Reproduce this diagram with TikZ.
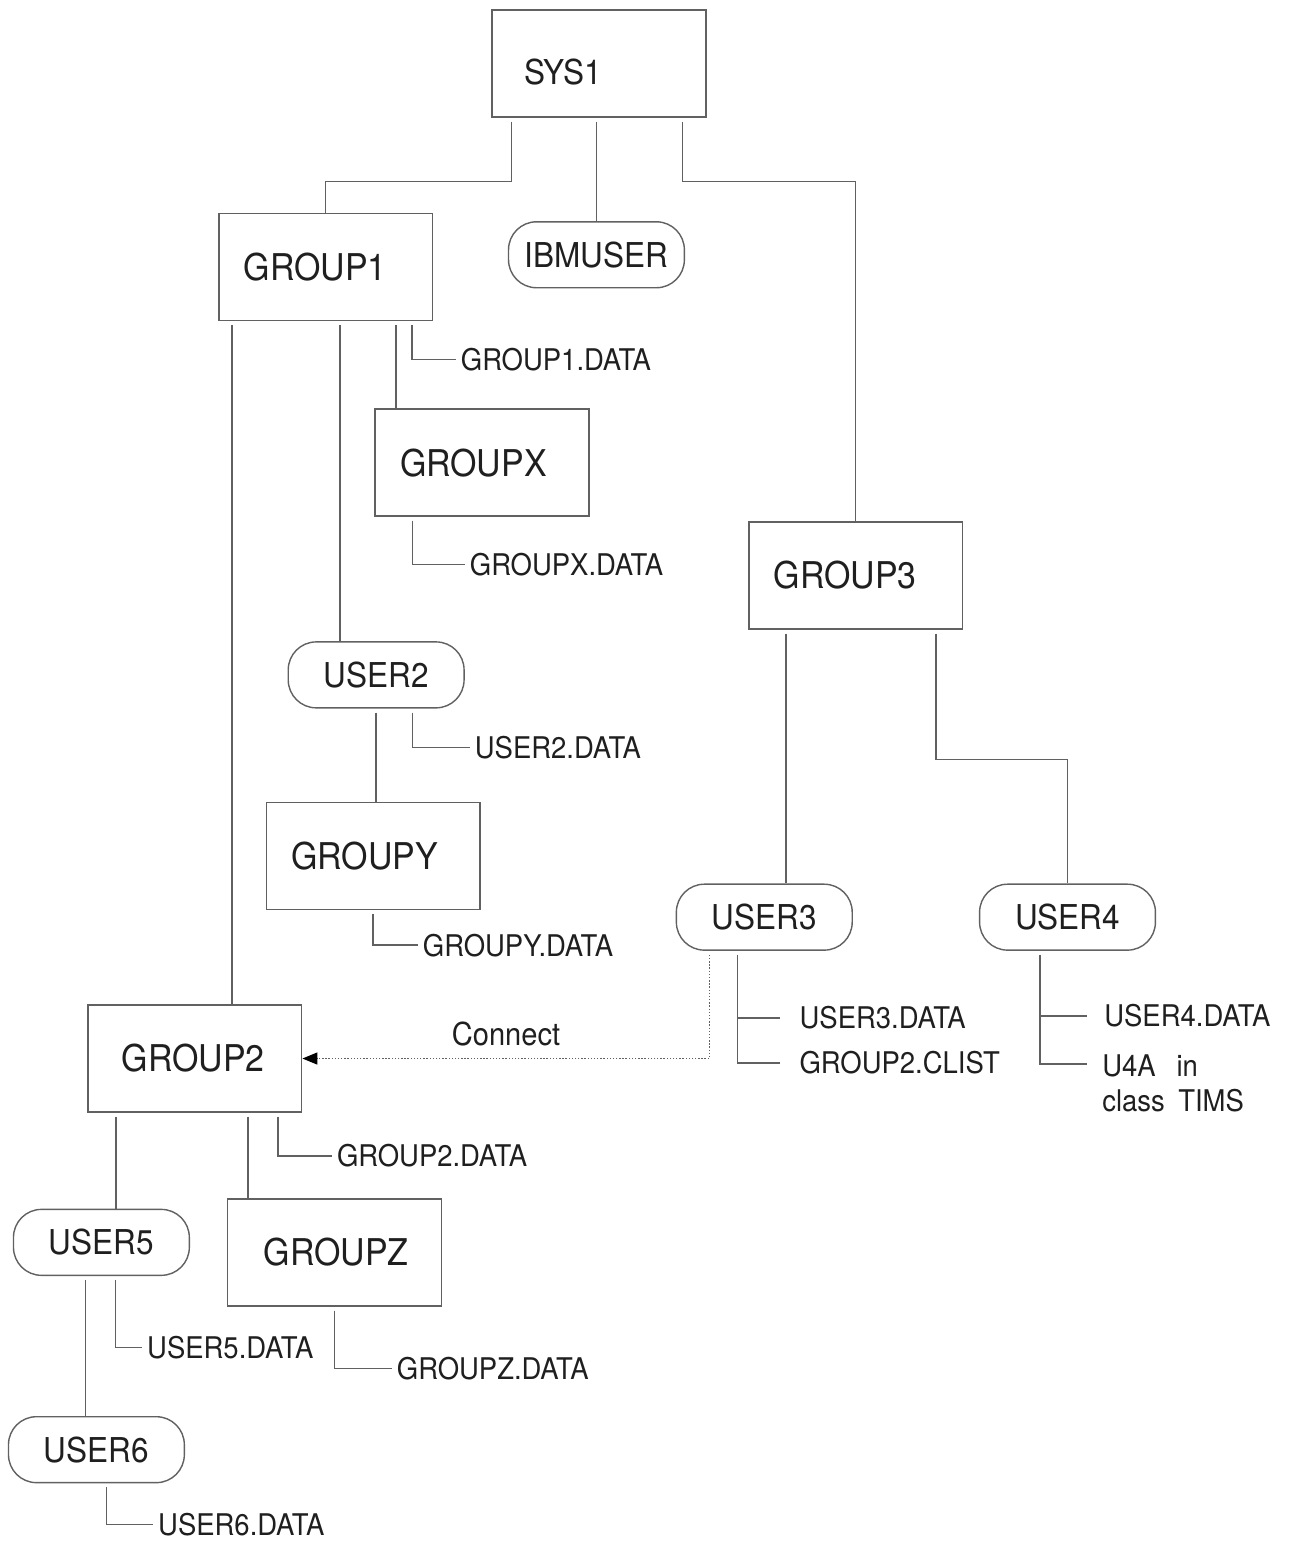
\documentclass[tikz,border=0pt]{standalone}
\usepackage{fontspec}
\setmainfont{TeX Gyre Heros}[FakeStretch=0.92]
\usetikzlibrary{arrows.meta}
\definecolor{linegray}{gray}{0.38}
\definecolor{inkgray}{gray}{0.12}

\begin{document}
\begin{tikzpicture}[
    grp/.style = {draw=linegray, line width=0.8pt, minimum height=2.14cm,
                  inner xsep=0.5cm, text width=3.28cm, align=left,
                  text=inkgray, font=\fontsize{21}{24}\selectfont},
    usr/.style = {draw=linegray, line width=0.8pt, rounded corners=0.56cm,
                  minimum width=3.52cm, minimum height=1.32cm,
                  text=inkgray, font=\fontsize{19.5}{23}\selectfont},
    dsn/.style = {anchor=west, inner sep=0.1cm, text=inkgray,
                  font=\fontsize{17}{20.4}\selectfont},
    link/.style = {draw=linegray, line width=0.8pt, shorten <=0.08cm}
]
    \path [fill=white] (0,0) rectangle (25.8,-30.82);

    % groups and users
    \node [grp, inner xsep=0.64cm, text width=3cm, text height=0.84cm, text depth=0pt,
           font=\fontsize{19.5}{23}\selectfont] (SYS1) at (11.99,-1.27) {SYS1};
    \node [usr] (IBMUSER) at (11.94,-5.1) {IBMUSER};
    \node [grp] (GROUP1) at (6.52,-5.34) {GROUP1};
    \node [grp] (GROUPX) at (9.65,-9.26) {GROUPX};
    \node [grp] (GROUP3) at (17.13,-11.52) {GROUP3};
    \node [usr] (USER2) at (7.53,-13.51) {USER2};
    \node [grp] (GROUPY) at (7.47,-17.14) {GROUPY};
    \node [usr] (USER3) at (15.3,-18.36) {USER3};
    \node [usr] (USER4) at (21.37,-18.36) {USER4};
    \node [grp, inner xsep=0.68cm, text width=2.92cm] (GROUP2) at (3.9,-21.19) {GROUP2};
    \node [usr] (USER5) at (2.03,-24.87) {USER5};
    \node [grp, inner xsep=0.72cm, text width=2.84cm] (GROUPZ) at (6.7,-25.07) {GROUPZ};
    \node [usr] (USER6) at (1.93,-29.02) {USER6};

    % data set profiles
    \node [dsn] (g1data) at (9.12,-7.2) {GROUP1.DATA};
    \node [dsn] (gxdata) at (9.3,-11.3) {GROUPX.DATA};
    \node [dsn] (u2data) at (9.4,-14.96) {USER2.DATA};
    \node [dsn] (gydata) at (8.36,-18.92) {GROUPY.DATA};
    \node [dsn] (u3data) at (15.9,-20.38) {USER3.DATA};
    \node [dsn] (u3clist) at (15.9,-21.28) {GROUP2.CLIST};
    \node [dsn] (u4data) at (22.0,-20.34) {USER4.DATA};
    \node [dsn, anchor=north west, align=left] (u4tims) at (21.96,-21.0) {U4A\hspace{0.7em}in\\class\hspace{0.45em}TIMS};
    \node [dsn] (g2data) at (6.64,-23.14) {GROUP2.DATA};
    \node [dsn] (u5data) at (2.84,-26.98) {USER5.DATA};
    \node [dsn] (gzdata) at (7.84,-27.4) {GROUPZ.DATA};
    \node [dsn] (u6data) at (3.06,-30.52) {USER6.DATA};

    % SYS1
    \draw [link] ([xshift=0.4cm]SYS1.south west) -- ++(0,-1.28) -| (GROUP1.north);
    \draw [link] (SYS1.south -| IBMUSER.north) -- (IBMUSER.north);
    \draw [link] ([xshift=-0.48cm]SYS1.south east) -- ++(0,-1.28) -| (GROUP3.north);

    % GROUP1
    \coordinate (g1a) at ([xshift=0.28cm]GROUP1.south west);
    \coordinate (g1b) at ([xshift=2.44cm]GROUP1.south west);
    \coordinate (g1c) at ([xshift=3.56cm]GROUP1.south west);
    \coordinate (g1d) at ([xshift=3.88cm]GROUP1.south west);
    \draw [link] (g1a) -- (g1a |- GROUP2.north);
    \draw [link] (g1b) -- (g1b |- USER2.north);
    \draw [link] (g1c) -- (g1c |- GROUPX.north);
    \draw [link] (g1d) |- (g1data.west);

    % GROUPX, USER2, GROUPY
    \coordinate (gxa) at ([xshift=0.76cm]GROUPX.south west);
    \draw [link] (gxa) |- (gxdata.west);
    \draw [link] (USER2.south) -- (USER2.south |- GROUPY.north);
    \coordinate (u2a) at ([xshift=2.5cm]USER2.south west);
    \draw [link] (u2a) |- (u2data.west);
    \draw [link] (GROUPY.south) |- (gydata.west);

    % GROUP3
    \coordinate (g3a) at ([xshift=0.76cm]GROUP3.south west);
    \coordinate (g3b) at ([xshift=3.76cm]GROUP3.south west);
    \draw [link] (g3a) -- (g3a |- USER3.north);
    \draw [link] (g3b) -- ++(0,-2.6) -| (USER4.north);

    % USER3 and the connect to GROUP2
    \coordinate (u3a) at ([xshift=1.24cm]USER3.south west);
    \coordinate (u3b) at ([xshift=0.68cm]USER3.south west);
    \draw [link, shorten >=0.28cm] (u3a) |- (u3data.west);
    \draw [link, shorten >=0.28cm] (u3a) |- (u3clist.west);
    \draw [link, densely dotted, ->, >={Triangle[length=0.3cm, width=0.24cm, color=black]}] (u3b) |- (GROUP2.east)
        node [pos=0.75, above=0.14cm, inner sep=0.1cm, text=inkgray, font=\fontsize{18}{21}\selectfont] (conn) {Connect};

    % USER4
    \coordinate (u4a) at ([xshift=1.22cm]USER4.south west);
    \draw [link, shorten >=0.24cm] (u4a) |- (u4data.west);
    \draw [link, shorten >=0.2cm] (u4a) |- ([yshift=-0.3cm]u4tims.north west);

    % GROUP2, USER5, GROUPZ, USER6
    \coordinate (g2a) at ([xshift=0.58cm]GROUP2.south west);
    \coordinate (g2b) at ([xshift=3.22cm]GROUP2.south west);
    \coordinate (g2c) at ([xshift=3.82cm]GROUP2.south west);
    \draw [link] (g2a) -- (g2a |- USER5.north);
    \draw [link] (g2b) -- (g2b |- GROUPZ.north);
    \draw [link] (g2c) |- (g2data.west);
    \coordinate (u5a) at ([xshift=1.46cm]USER5.south west);
    \coordinate (u5b) at ([xshift=2.06cm]USER5.south west);
    \draw [link] (u5a) -- (u5a |- USER6.north);
    \draw [link] (u5b) |- (u5data.west);
    \draw [link] (GROUPZ.south) |- (gzdata.west);
    \coordinate (u6a) at ([xshift=1.98cm]USER6.south west);
    \draw [link] (u6a) |- (u6data.west);
\end{tikzpicture}
\end{document}
